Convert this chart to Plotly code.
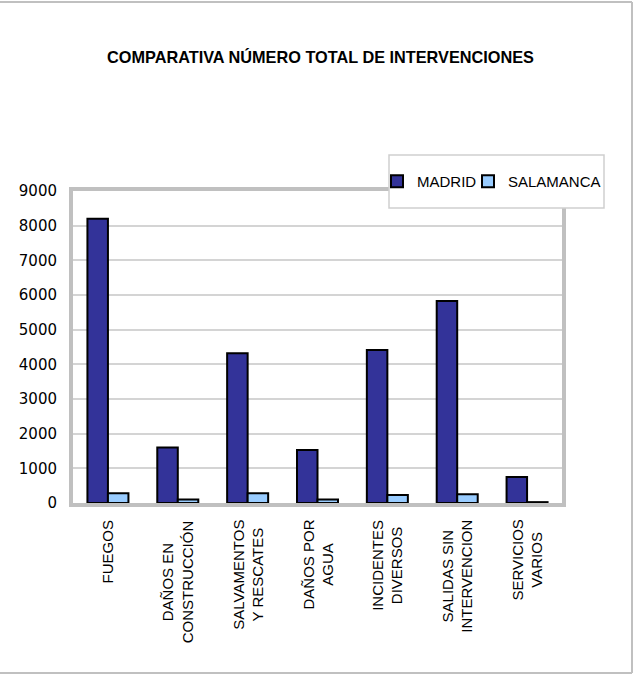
import plotly.graph_objects as go

# ---- data ----
categories = ["FUEGOS", "DAÑOS EN CONSTRUCCIÓN", "SALVAMENTOS Y RESCATES", "DAÑOS POR AGUA",
              "INCIDENTES DIVERSOS", "SALIDAS SIN INTERVENCION", "SERVICIOS VARIOS"]
category_labels = ["FUEGOS", "DAÑOS EN<br>CONSTRUCCIÓN", "SALVAMENTOS<br>Y RESCATES", "DAÑOS POR<br>AGUA",
                   "INCIDENTES<br>DIVERSOS", "SALIDAS SIN<br>INTERVENCION", "SERVICIOS<br>VARIOS"]
madrid = [8200, 1600, 4320, 1530, 4410, 5830, 750]
salamanca = [280, 100, 280, 100, 230, 250, 25]
y_ticks = [0, 1000, 2000, 3000, 4000, 5000, 6000, 7000, 8000, 9000]
title_text = "COMPARATIVA NÚMERO TOTAL DE INTERVENCIONES"

# ---- geometry (pixels) ----
W, H = 637, 675
L, R, T, B = 73, 75, 191, 172
PW = W - L - R
PH = H - T - B
BOTTOM = H - B

def px(xp):
    return (xp - L) / PW

def py(yp):
    return (BOTTOM - yp) / PH

ARIAL = "Liberation Sans, Arial, sans-serif"
VERD = "DejaVu Sans, Verdana, sans-serif"

fig = go.Figure()
fig.add_trace(go.Bar(name="MADRID", x=categories, y=madrid,
                     marker=dict(color="#333399", line=dict(color="#000000", width=2)),
                     legend="legend"))
fig.add_trace(go.Bar(name="SALAMANCA", x=categories, y=salamanca,
                     marker=dict(color="#99ccff", line=dict(color="#000000", width=2)),
                     legend="legend2"))

shapes = [
    # legend box
    dict(type="rect", xref="paper", yref="paper", x0=px(389), x1=px(604), y0=py(208), y1=py(155),
         line=dict(color="#cfcfcf", width=1.5), fillcolor="white", layer="above"),
    # outer chart border (top, right, bottom)
    dict(type="line", xref="paper", yref="paper", x0=px(0), x1=px(632), y0=py(2), y1=py(2),
         line=dict(color="#c0c0c0", width=2)),
    dict(type="line", xref="paper", yref="paper", x0=px(632), x1=px(632), y0=py(2), y1=py(673),
         line=dict(color="#c0c0c0", width=2)),
    dict(type="line", xref="paper", yref="paper", x0=px(0), x1=px(632), y0=py(673), y1=py(673),
         line=dict(color="#c0c0c0", width=2)),
]

annotations = []
for cat, lab in zip(categories, category_labels):
    annotations.append(dict(x=cat, xref="x", y=0, yref="paper", yshift=-15,
                            yanchor="top", xanchor="center", text=lab, textangle=-90,
                            align="center", showarrow=False,
                            font=dict(family=ARIAL, size=15, color="#000000")))

fig.update_layout(
    width=W, height=H, autosize=False,
    margin=dict(l=L, r=R, t=T, b=B, pad=0),
    paper_bgcolor="white", plot_bgcolor="white",
    title=dict(text="<b>" + title_text + "</b>", x=320.5 / W, xanchor="center",
               y=1 - 57 / H, yanchor="middle",
               font=dict(family=ARIAL, size=16.3, color="#000000")),
    barmode="group", bargap=0.413, bargroupgap=0,
    showlegend=True,
    legend=dict(orientation="h", x=px(377), xanchor="left", y=py(181.5), yanchor="middle",
                bgcolor="rgba(0,0,0,0)", borderwidth=0,
                font=dict(family=ARIAL, size=15, color="#000000")),
    legend2=dict(orientation="h", x=px(468), xanchor="left", y=py(181.5), yanchor="middle",
                 bgcolor="rgba(0,0,0,0)", borderwidth=0,
                 font=dict(family=ARIAL, size=15, color="#000000")),
    xaxis=dict(range=[-0.5, 6.5], showticklabels=False, showgrid=False, zeroline=False,
               showline=True, mirror=True, linecolor="#c0c0c0", linewidth=4, ticks=""),
    yaxis=dict(range=[0, 9000], tickvals=y_ticks, ticktext=[str(v) for v in y_ticks],
               showgrid=True, gridcolor="#d4d4d4", gridwidth=1.5, zeroline=False,
               showline=True, mirror=True, linecolor="#c0c0c0", linewidth=4,
               ticks="outside", ticklen=9, tickcolor="rgba(0,0,0,0)",
               tickfont=dict(family=VERD, size=15, color="#000000")),
    shapes=shapes,
    annotations=annotations,
)

fig.write_html("out.html", config={"displayModeBar": False},
               post_script="document.body.style.margin='0';")
